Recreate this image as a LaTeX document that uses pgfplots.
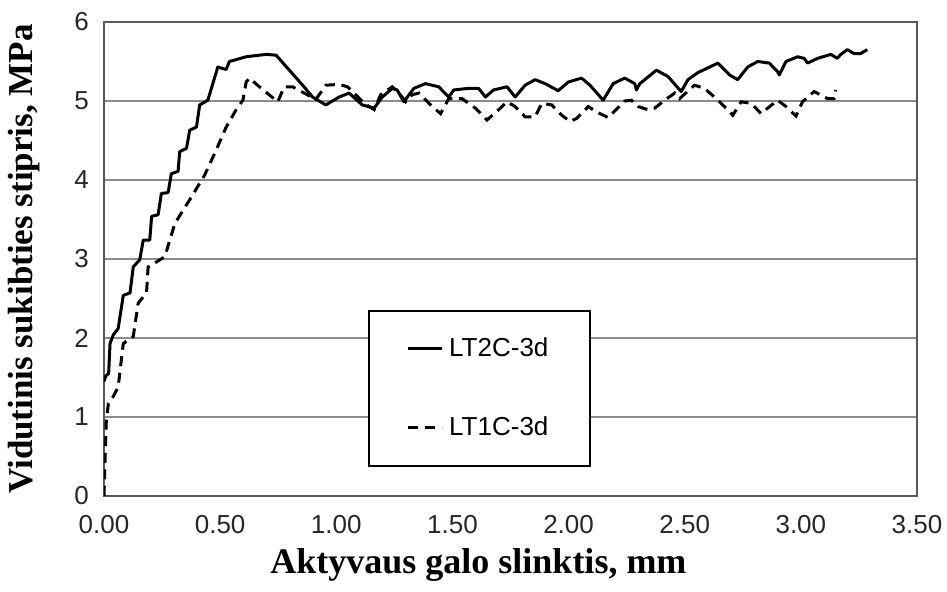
\documentclass[border=0pt]{standalone}
\usepackage{fontspec}
\setmainfont{Liberation Serif}
\newfontfamily\sansf{Liberation Sans}
\usepackage{pgfplots}
\pgfplotsset{compat=1.18}
\begin{document}
\begin{tikzpicture}
\path[use as bounding box] (-52pt,-48pt) rectangle (421.5pt,248pt);
\begin{axis}[
 at={(0pt,0pt)}, anchor=south west,
 scale only axis, width=406.5pt, height=237pt,
 xmin=0, xmax=3.5, ymin=0, ymax=6,
 xtick={0,0.5,1,1.5,2,2.5,3,3.5},
 xticklabels={0.00,0.50,1.00,1.50,2.00,2.50,3.00,3.50},
 ytick={0,1,2,3,4,5,6},
 yticklabels={0,1,2,3,4,5,6},
 ymajorgrids, major grid style={black!45, line width=0.75pt},
 axis line style={black!65, line width=1pt},
 major tick length=0pt,
 ticklabel style={font=\sansf\fontsize{13}{15}\selectfont, text=black!85},
 xticklabel style={yshift=-6pt},
 yticklabel style={xshift=-4pt},
 xlabel={Aktyvaus galo slinktis, mm},
 ylabel={Vidutinis sukibties stipris, MPa},
 xlabel style={font=\bfseries\fontsize{18}{20}\selectfont, at={(axis description cs:0.4606,-0.1456)}, anchor=center},
 ylabel style={font=\bfseries\fontsize{17.5}{20}\selectfont, at={(axis description cs:-0.0984,0.5)}, anchor=center},
 legend style={at={(axis cs:1.1365,2.354)}, anchor=north west, draw=black, line width=1pt, fill=white,
   font=\sansf\fontsize{13}{15}\selectfont, inner xsep=19pt, inner ysep=11.5pt, row sep=24.4pt, column sep=1pt},
 legend cell align=left,
 legend image code/.code={\draw[#1] (0pt,0pt) -- (16.6pt,0pt);},
]
\addplot[black, line width=1.5pt, line join=round] coordinates {
(0,1.45) (0.008,1.52) (0.02,1.55) (0.026,1.93) (0.04,2.04) (0.061,2.12) (0.083,2.54) (0.112,2.57)
(0.126,2.90) (0.154,2.99) (0.169,3.24) (0.197,3.24) (0.205,3.54) (0.233,3.56) (0.247,3.83) (0.276,3.84)
(0.29,4.08) (0.319,4.11) (0.326,4.36) (0.355,4.40) (0.369,4.63) (0.398,4.67) (0.412,4.95) (0.447,5.01)
(0.49,5.43) (0.512,5.41) (0.526,5.40) (0.54,5.50) (0.612,5.56) (0.698,5.59) (0.741,5.58) (0.798,5.39)
(0.855,5.20) (0.898,5.05) (0.955,4.95) (1.012,5.05) (1.055,5.10) (1.112,4.95) (1.163,4.91) (1.198,5.05)
(1.241,5.16) (1.262,5.14) (1.291,4.99) (1.334,5.16) (1.384,5.22) (1.441,5.18) (1.484,5.05) (1.506,5.14)
(1.57,5.16) (1.613,5.16) (1.642,5.05) (1.677,5.14) (1.735,5.18) (1.77,5.05) (1.813,5.20) (1.856,5.27)
(1.899,5.22) (1.955,5.13) (1.999,5.24) (2.056,5.29) (2.092,5.20) (2.149,5.01) (2.192,5.22) (2.242,5.29)
(2.285,5.22) (2.292,5.14) (2.307,5.22) (2.378,5.39) (2.428,5.31) (2.485,5.12) (2.514,5.27) (2.557,5.36)
(2.643,5.48) (2.693,5.33) (2.728,5.27) (2.771,5.43) (2.814,5.50) (2.864,5.48) (2.90,5.37) (2.907,5.33)
(2.936,5.50) (2.986,5.56) (3.014,5.54) (3.029,5.48) (3.072,5.54) (3.129,5.59) (3.157,5.54) (3.172,5.59)
(3.20,5.65) (3.229,5.60) (3.257,5.60) (3.286,5.65)
};
\addlegendentry{LT2C-3d}
\addplot[black, line width=1.5pt, dash pattern=on 5pt off 3.3pt] coordinates {
(0,0) (0.005,0.5) (0.01,0.96) (0.019,1.17) (0.04,1.26) (0.061,1.38) (0.083,1.93) (0.126,2.02)
(0.147,2.44) (0.183,2.57) (0.19,2.90) (0.219,2.95) (0.262,3.03) (0.305,3.45) (0.369,3.75) (0.433,4.06)
(0.483,4.38) (0.526,4.67) (0.569,4.89) (0.598,5.01) (0.612,5.24) (0.626,5.29) (0.669,5.18) (0.748,4.99)
(0.776,5.18) (0.812,5.18) (0.862,5.10) (0.912,5.02) (0.955,5.20) (1.012,5.21) (1.048,5.18) (1.084,5.08)
(1.12,4.97) (1.163,4.89) (1.191,5.08) (1.241,5.18) (1.27,5.10) (1.299,4.99) (1.327,5.08) (1.356,5.10)
(1.399,4.97) (1.449,4.84) (1.484,5.03) (1.541,5.03) (1.599,4.91) (1.649,4.76) (1.699,4.89) (1.735,4.99)
(1.77,4.93) (1.813,4.80) (1.856,4.80) (1.885,4.97) (1.928,4.95) (1.967,4.83) (2.006,4.74) (2.035,4.78)
(2.085,4.93) (2.121,4.86) (2.171,4.79) (2.242,5.00) (2.271,5.01) (2.299,4.93) (2.342,4.89) (2.371,4.91)
(2.414,5.01) (2.457,5.10) (2.478,5.03) (2.542,5.20) (2.585,5.16) (2.628,5.05) (2.671,4.93) (2.707,4.82)
(2.743,4.99) (2.786,4.97) (2.829,4.84) (2.857,4.91) (2.90,5.01) (2.936,4.93) (2.979,4.81) (3.007,4.99)
(3.057,5.12) (3.115,5.03) (3.143,5.03) (3.15,5.14)
};
\addlegendentry{LT1C-3d}
\end{axis}
\end{tikzpicture}
\end{document}
